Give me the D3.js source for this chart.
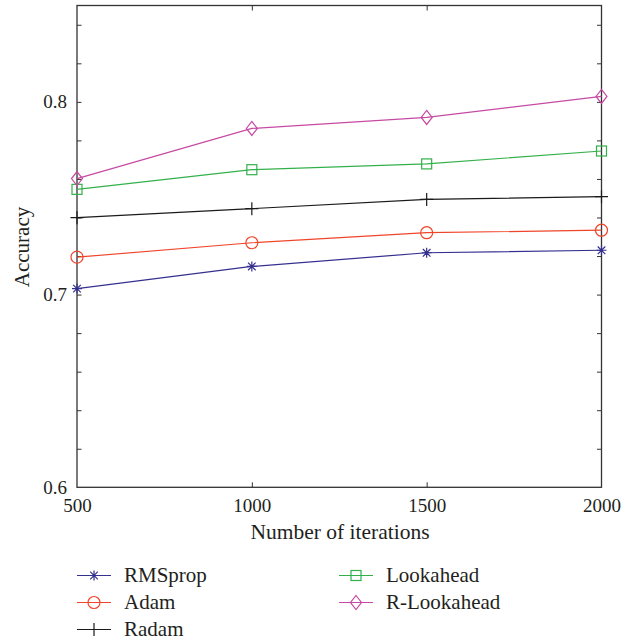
<!DOCTYPE html>
<html><head><meta charset="utf-8">
<script src="https://cdn.jsdelivr.net/npm/d3@7"></script>
<style>body{margin:0;background:#fff}text{font-family:"Liberation Serif","DejaVu Serif",serif;fill:#231f20}</style>
</head><body>
<svg id="c" width="637" height="644"></svg>
<script>
const iterations = [500, 1000, 1500, 2000];
const seriesNames = ["RMSprop", "Adam", "Radam", "Lookahead", "R-Lookahead"];
const rmsprop = [0.7031, 0.7146, 0.7217, 0.7230];
const adam = [0.7194, 0.7269, 0.7321, 0.7334];
const radam = [0.7399, 0.7446, 0.7494, 0.7508];
const lookahead = [0.7546, 0.7648, 0.7678, 0.7745];
const rLookahead = [0.7602, 0.7862, 0.7919, 0.8028];
const yTicks = [0.6, 0.7, 0.8];
const xTicks = [500, 1000, 1500, 2000];

const colors = ["#34308f", "#f0452a", "#1a1a1a", "#33b04a", "#c64aa2"];
const markers = ["star", "circle", "plus", "square", "diamond"];
const values = [rmsprop, adam, radam, lookahead, rLookahead];

const svg = d3.select("#c");
const L = 77, R = 601.5, T = 5.5, B = 487.3;
const x = d3.scaleLinear().domain([500, 2000]).range([L, R]);
const y = d3.scaleLinear().domain([0.6, 0.85]).range([B, T]);

const minor = d3.range(0.62, 0.849, 0.02);
const axColor = "#333";
svg.append("g").attr("transform", `translate(${L},0)`)
  .call(d3.axisRight(y).tickValues(minor).tickSize(4.5).tickFormat(""))
  .call(g => { g.select(".domain").remove(); g.selectAll("line").attr("stroke", axColor); });
svg.append("g").attr("transform", `translate(${R},0)`)
  .call(d3.axisLeft(y).tickValues(minor).tickSize(4.5).tickFormat(""))
  .call(g => { g.select(".domain").remove(); g.selectAll("line").attr("stroke", axColor); });
svg.append("g").attr("transform", `translate(0,${B})`)
  .call(d3.axisTop(x).tickValues(xTicks.slice(1, 3)).tickSize(5).tickFormat(""))
  .call(g => { g.select(".domain").remove(); g.selectAll("line").attr("stroke", axColor); });
svg.append("g").attr("transform", `translate(0,${T})`)
  .call(d3.axisBottom(x).tickValues(xTicks.slice(1, 3)).tickSize(5).tickFormat(""))
  .call(g => { g.select(".domain").remove(); g.selectAll("line").attr("stroke", axColor); });

const yAx = svg.append("g").attr("transform", `translate(${L},0)`)
  .call(d3.axisLeft(y).tickValues(yTicks).tickSize(0).tickPadding(10).tickFormat(d3.format(".1f")));
yAx.select(".domain").remove();
yAx.selectAll("text").attr("font-size", 19).attr("font-family", "Liberation Serif").attr("fill", "#231f20");
const xAx = svg.append("g").attr("transform", `translate(0,${B})`)
  .call(d3.axisBottom(x).tickValues(xTicks).tickSize(0).tickPadding(11).tickFormat(d3.format("d")));
xAx.select(".domain").remove();
xAx.selectAll("text").attr("font-size", 19).attr("font-family", "Liberation Serif").attr("fill", "#231f20");

svg.append("rect").attr("x", L).attr("y", T).attr("width", R - L).attr("height", B - T)
  .attr("fill", "none").attr("stroke", axColor).attr("stroke-width", 1.3);

function drawMarker(g, type, cx, cy, color) {
  const s = g.append("g").attr("transform", `translate(${cx},${cy})`)
    .attr("fill", "none").attr("stroke", color).attr("stroke-width", 1.2);
  if (type === "circle") s.append("circle").attr("r", 6);
  else if (type === "square") s.append("rect").attr("x", -5).attr("y", -5).attr("width", 10).attr("height", 10);
  else if (type === "diamond") s.append("path").attr("d", "M0,-7L5.5,0L0,7L-5.5,0Z");
  else if (type === "plus") s.append("path").attr("d", "M-6.5,0H6.5M0,-6.5V6.5");
  else if (type === "star") s.append("path").attr("d", "M-5,0H5M0,-5V5M-3.8,-3.8L3.8,3.8M-3.8,3.8L3.8,-3.8");
}

const line = d3.line().x((d, i) => x(iterations[i])).y(d => y(d));
values.forEach((vals, k) => {
  svg.append("path").datum(vals).attr("d", line).attr("fill", "none")
    .attr("stroke", colors[k]).attr("stroke-width", 1.2);
  const g = svg.append("g");
  vals.forEach((v, i) => drawMarker(g, markers[k], x(iterations[i]), y(v), colors[k]));
});

svg.append("text").attr("x", 340).attr("y", 539).attr("text-anchor", "middle")
  .attr("font-size", 21.5).text("Number of iterations");
svg.append("text").attr("transform", `translate(29,247) rotate(-90)`)
  .attr("text-anchor", "middle").attr("font-size", 21).text("Accuracy");

const legPos = [[77, 575.5], [77, 602.5], [77, 629.5], [339, 575.5], [339, 602.5]];
seriesNames.forEach((name, k) => {
  const [lx, ly] = legPos[k];
  svg.append("line").attr("x1", lx).attr("x2", lx + 34).attr("y1", ly).attr("y2", ly)
    .attr("stroke", colors[k]).attr("stroke-width", 1.2);
  drawMarker(svg, markers[k], lx + 17, ly, colors[k]);
  svg.append("text").attr("x", lx + 47).attr("y", ly + 6.5).attr("font-size", 21).text(name);
});
</script>
</body></html>
